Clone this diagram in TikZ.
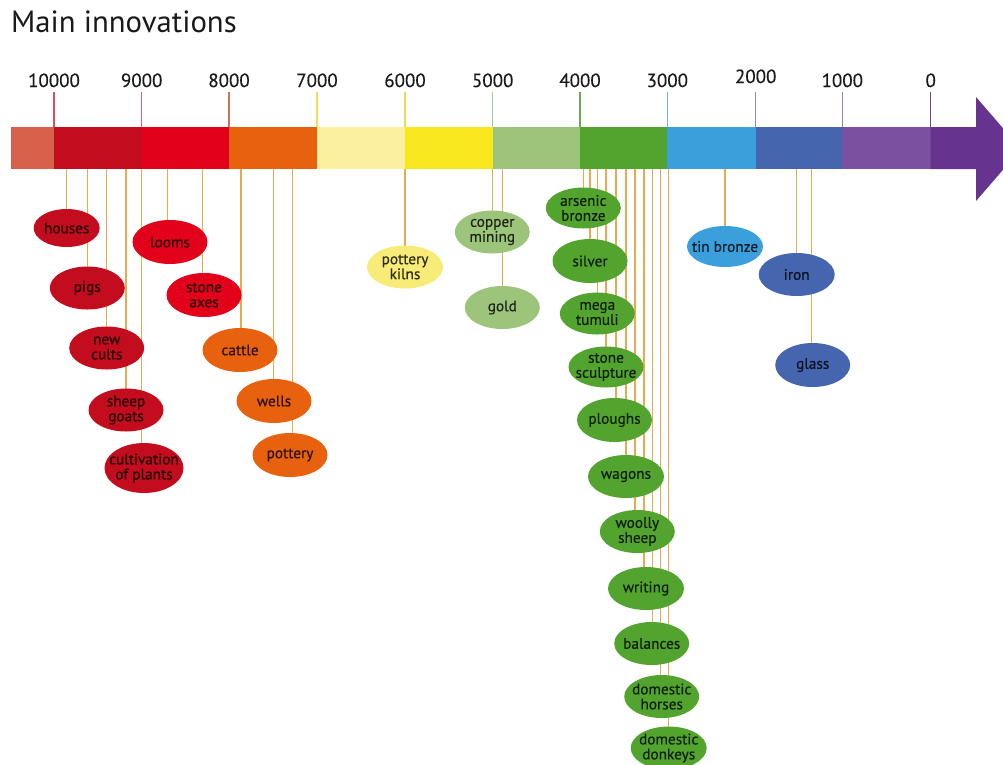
\documentclass[tikz,border=0pt]{standalone}
\usepackage{fontspec}
\setmainfont{PT Sans}
\newfontfamily\pilltext[FakeBold=0.35]{PT Sans}
\usetikzlibrary{shapes.geometric}
\pgfdeclarelayer{bg}
\pgfsetlayers{bg,main}

% bar colours
\definecolor{seg0}{HTML}{D8614A}
\definecolor{dred}{HTML}{C40C1F}
\definecolor{bred}{HTML}{E2001A}
\definecolor{orng}{HTML}{E8610E}
\definecolor{pyel}{HTML}{FAF0A0}
\definecolor{kyel}{HTML}{F8EC78}
\definecolor{yel}{HTML}{F8E71C}
\definecolor{lgrn}{HTML}{9DC47B}
\definecolor{grn}{HTML}{52A42E}
\definecolor{blu}{HTML}{3B9FDB}
\definecolor{dblu}{HTML}{4565AF}
\definecolor{purp}{HTML}{7B50A0}
\definecolor{dpurp}{HTML}{66348F}
\definecolor{stalk}{HTML}{E9A94F}

\begin{document}
\begin{tikzpicture}[x=1pt,y=-1pt,
  pill/.style={ellipse, fill=#1, text=#1!18!black, inner xsep=-12pt, inner ysep=-2pt,
    align=center, font=\pilltext\fontsize{15.3}{15}\selectfont},
  yr/.style={anchor=base, font=\pilltext\fontsize{19}{19}\selectfont, text=black!90},
  tick/.style={line width=1.3pt},
  stem/.style={stalk, line width=1.4pt}]
\useasboundingbox (0,0) rectangle (1003,764);
\clip (0,0) rectangle (1003,764);

% title
\node[anchor=base west, font=\fontsize{30.7}{30.7}\selectfont, text=black!90, inner sep=0]
  (title) at (11,32) {Main innovations};

% time bar segments
\fill[seg0]  (11,127)    rectangle (54,169);
\fill[dred]  (54,127)    rectangle (141.7,169);
\fill[bred]  (141.7,127) rectangle (229,169);
\fill[orng]  (229,127)   rectangle (317,169);
\fill[pyel]  (317,127)   rectangle (405,169);
\fill[yel]   (405,127)   rectangle (492.7,169);
\fill[lgrn]  (492.7,127) rectangle (580,169);
\fill[grn]   (580,127)   rectangle (667.3,169);
\fill[blu]   (667.3,127) rectangle (755.7,169);
\fill[dblu]  (755.7,127) rectangle (842.3,169);
\fill[purp]  (842.3,127) rectangle (930.7,169);
\fill[dpurp] (930.7,127) -- (976,127) -- (976,97) -- (1021,149) -- (976,201)
  -- (976,169) -- (930.7,169) -- cycle;

% year marks
\foreach \yv/\xv/\yb/\tc in {10000/54/87/D9505A, 9000/141.7/87/E06070, 8000/229/87/C8785A,
    7000/317/87/F2DC5A, 6000/405/87/F0D850, 5000/492.7/87/A8C890, 4000/580/87/6AAA50,
    3000/667.3/87/7AB0D8, 2000/755.7/83/8890B8, 1000/842.3/87/9A80B0, 0/930.7/87/6A4A8A}{
  \definecolor{tc}{HTML}{\tc}
  \node[yr] (l\yv) at (\xv,\yb) {\yv};
  \coordinate (t\yv) at (\xv,92);
  \coordinate (b\yv) at (\xv,127);
  \draw[tick, tc] (t\yv) -- (b\yv);
}

% innovations hanging below the bar
\foreach \n/\lx/\cx/\cy/\c/\w/\h/\t in {
    houses/66.7/66.7/228/dred/66/38/houses,
    pigs/87.3/87.3/288/dred/75/43/pigs,
    cults/106.7/106.7/348/dred/75/43/{new\\cults},
    sheep/126/126/410/dred/75/43/{sheep\\goats},
    plants/141.7/144/468/dred/79/50/{cultivation\\of plants},
    looms/167.3/170/242/bred/75/44/looms,
    axes/202.3/204/295/bred/75/44/{stone\\axes},
    cattle/241/240/350/orng/75/44/cattle,
    wells/273.3/274/401/orng/75/44/wells,
    pottery/292.7/290/455/orng/75/44/pottery,
    kilns/405/405/267/kyel/76/43/{pottery\\kilns},
    copper/492.3/492.3/232/lgrn/75/43/{copper\\mining},
    gold/502.7/502.3/307.5/lgrn/75/43/gold,
    arsenic/583.3/583.3/208/grn/75/41/{arsenic\\bronze},
    silver/590/590/261/grn/75/44/silver,
    tumuli/597.3/597.3/313.5/grn/75/42/{mega\\tumuli},
    sculpture/606/606/367/grn/75/41/{stone\\sculpture},
    ploughs/616/614.5/420/grn/75/44/ploughs,
    wagons/626/626/476.5/grn/76/43/wagons,
    woolly/635/637.3/531.5/grn/75/43/{woolly\\sheep},
    writing/644/646/588.5/grn/76/43/writing,
    balances/652.7/651.7/643.5/grn/75/43/balances,
    horses/660.7/661.7/696.5/grn/75/43/{domestic\\horses},
    donkeys/668.3/668.7/748/grn/76/43/{domestic\\donkeys},
    tin/725/725/246.5/blu/76/41/{tin bronze},
    iron/796.7/796.7/274.5/dblu/76/43/iron,
    glass/811.7/812.7/365/dblu/75/44/glass}{
  \node[pill=\c, minimum width=\w pt, minimum height=\h pt] (\n) at (\cx,\cy) {\t};
  \coordinate (s\n) at (\lx,169);
  \begin{pgfonlayer}{bg}
    \draw[stem] (s\n) -- (s\n |- \n.center);
  \end{pgfonlayer}
}
\end{tikzpicture}
\end{document}
